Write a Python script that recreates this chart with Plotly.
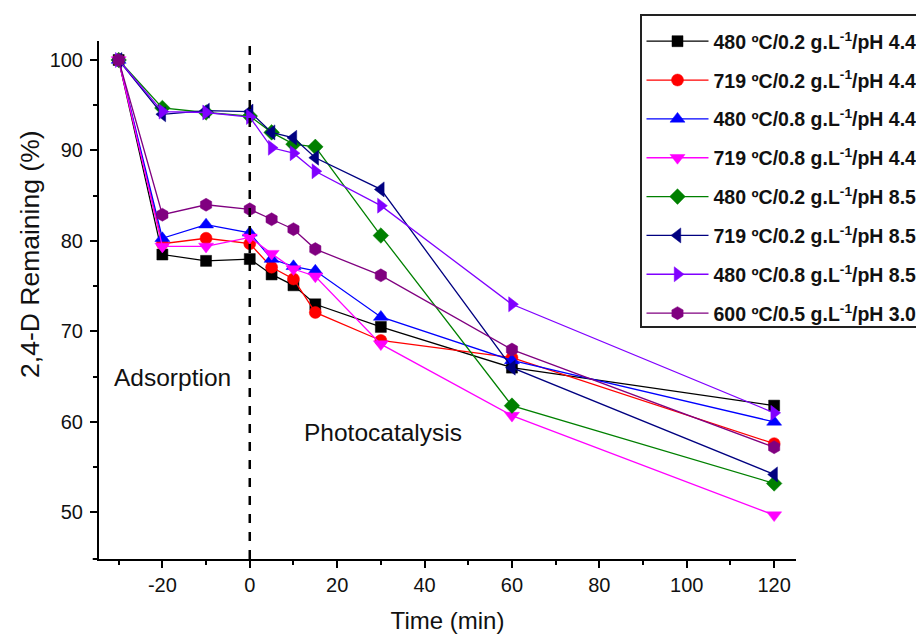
import plotly.graph_objects as go

time_min = [-30, -20, -10, 0, 5, 10, 15, 30, 60, 120]

labels = [
    "480 ºC/0.2 g.L<sup>-1</sup>/pH 4.4",
    "719 ºC/0.2 g.L<sup>-1</sup>/pH 4.4",
    "480 ºC/0.8 g.L<sup>-1</sup>/pH 4.4",
    "719 ºC/0.8 g.L<sup>-1</sup>/pH 4.4",
    "480 ºC/0.2 g.L<sup>-1</sup>/pH 8.5",
    "719 ºC/0.2 g.L<sup>-1</sup>/pH 8.5",
    "480 ºC/0.8 g.L<sup>-1</sup>/pH 8.5",
    "600 ºC/0.5 g.L<sup>-1</sup>/pH 3.0",
]

s480_02_44 = [100, 78.5, 77.8, 78.0, 76.3, 75.1, 73.0, 70.5, 66.0, 61.8]
s719_02_44 = [100, 79.7, 80.3, 79.7, 77.1, 75.8, 72.1, 69.0, 67.1, 57.6]
s480_08_44 = [100, 80.3, 81.8, 80.9, 78.0, 77.2, 76.7, 71.6, 66.8, 60.0]
s719_08_44 = [100, 79.4, 79.4, 80.4, 78.6, 76.9, 76.1, 68.6, 60.7, 49.7]
s480_02_85 = [100, 94.7, 94.2, 93.8, 92.0, 90.7, 90.4, 80.6, 61.8, 53.2]
s719_02_85 = [100, 94.0, 94.4, 94.3, 92.0, 91.4, 89.2, 85.7, 66.0, 54.2]
s480_08_85 = [100, 94.3, 94.2, 93.7, 90.3, 89.7, 87.7, 83.9, 73.0, 61.0]
s600_05_30 = [100, 82.9, 84.0, 83.5, 82.4, 81.3, 79.1, 76.2, 68.0, 57.2]

x_tickvals = [-20, 0, 20, 40, 60, 80, 100, 120]
x_ticktext = ["-20", "0", "20", "40", "60", "80", "100", "120"]
y_tickvals = [50, 60, 70, 80, 90, 100]

series = [s480_02_44, s719_02_44, s480_08_44, s719_08_44,
          s480_02_85, s719_02_85, s480_08_85, s600_05_30]
colors = ["#000000", "#FF0000", "#0000FF", "#FF00FF",
          "#008000", "#000080", "#8000FF", "#800080"]
symbols = ["square", "circle", "triangle-up", "triangle-down",
           "diamond", "triangle-left", "triangle-right", "hexagon"]
sizes = [11, 12, 13, 13, 12, 13, 13, 13]

FONT = "Arial, Liberation Sans, sans-serif"

fig = go.Figure()
for i, (lab, vals, col, sym, sz) in enumerate(zip(labels, series, colors, symbols, sizes)):
    fig.add_trace(go.Scatter(
        x=time_min, y=vals, mode="lines+markers", name=lab,
        legendgroup="g%d" % i,
        line=dict(color=col, width=1.3),
        marker=dict(symbol=sym, size=sz, color=col, line=dict(color=col, width=0.5)),
    ))

fig.add_shape(type="line", xref="x", yref="paper", x0=0, x1=0, y0=0, y1=1,
              line=dict(color="black", width=2.5, dash="dash"))
# short extension of the x axis line to the left of the y axis (Origin style)
fig.add_shape(type="line", xref="paper", yref="paper", x0=-0.009, x1=0, y0=0, y1=0,
              line=dict(color="black", width=2))

fig.add_annotation(x=-17.6, y=64.9, xref="x", yref="y", text="Adsorption",
                   showarrow=False, font=dict(family=FONT, size=24.5, color="#111"))
fig.add_annotation(x=30.4, y=58.8, xref="x", yref="y", text="Photocatalysis",
                   showarrow=False, font=dict(family=FONT, size=24.5, color="#111"))
fig.add_annotation(x=-0.099, y=0.589, xref="paper", yref="paper", xanchor="center",
                   yanchor="middle", text="2,4-D Remaining (%)", textangle=-90,
                   showarrow=False, font=dict(family=FONT, size=26.5, color="#111"))

fig.update_layout(
    width=916, height=627,
    margin=dict(l=91, r=128, t=33, b=76, autoexpand=False),
    plot_bgcolor="white", paper_bgcolor="white",
    font=dict(family=FONT, color="#111"),
    showlegend=True,
    legend=dict(
        x=(632 - 91) / 697, y=(551 - 6) / 518, xanchor="left", yanchor="top",
        bgcolor="white", bordercolor="#222", borderwidth=1.5,
        font=dict(family=FONT, size=19.5, color="#111", weight="bold"),
        itemwidth=62, tracegroupgap=10.5,
        title=dict(text=" ", font=dict(size=5)),
    ),
    xaxis=dict(
        range=[-34.5, 125], tickvals=x_tickvals, ticktext=x_ticktext,
        showgrid=False, zeroline=False, showline=True, linecolor="black", linewidth=2,
        ticks="outside", ticklen=7, tickwidth=2, tickcolor="black",
        minor=dict(tickvals=[-30, -10, 10, 30, 50, 70, 90, 110], ticks="outside",
                   ticklen=4, tickwidth=2, tickcolor="black"),
        tickfont=dict(family=FONT, size=20, color="#111"),
        title=dict(text="Time (min)", font=dict(family=FONT, size=24, color="#111"), standoff=17),
    ),
    yaxis=dict(
        range=[44.85, 102.1], tickvals=y_tickvals,
        showgrid=False, zeroline=False, showline=True, linecolor="black", linewidth=2,
        ticks="outside", ticklen=7, tickwidth=2, tickcolor="black",
        ticklabelstandoff=3,
        minor=dict(tickvals=[55, 65, 75, 85, 95], ticks="outside",
                   ticklen=4, tickwidth=2, tickcolor="black"),
        tickfont=dict(family=FONT, size=20, color="#111"),
    ),
)

fig.write_html("out.html")
